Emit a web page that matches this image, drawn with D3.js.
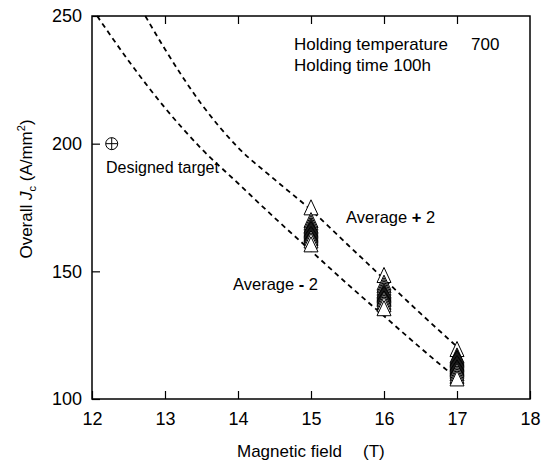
<!DOCTYPE html>
<html>
<head>
<meta charset="utf-8">
<script src="https://cdn.jsdelivr.net/npm/d3@7"></script>
<style>
  body { margin: 0; background: #fff; }
  svg { display: block; font-family: "Liberation Sans", Arial, sans-serif; }
</style>
</head>
<body>
<div id="chart"></div>
<script>
// tick labels
const xTicks = [12, 13, 14, 15, 16, 17, 18]
const yTicks = [100, 150, 200, 250]

const jc15 = [175, 170, 169, 168, 167.5, 167, 166.5, 166, 165.5, 165, 164.5, 164, 163.5, 163, 162, 160.5]
const jc16 = [148.5, 145.5, 144.5, 143.5, 142.5, 142, 141.5, 141, 140.5, 140, 139.5, 139, 138, 137, 135.5]
const jc17 = [119.5, 117, 116.5, 116, 115.5, 115, 114.5, 114, 113.5, 113, 112.5, 112, 111.5, 111, 110, 109, 108]

// average +/- 2 sigma curves
const upperCurve = [[12.73, 250], [13.0, 237], [13.5, 215.5], [14.0, 198.5], [14.5, 186], [15, 174], [15.5, 160.5], [16, 147], [16.5, 133.5], [17, 120.5]]
const lowerCurve = [[12.07, 250], [12.5, 232.5], [13.0, 214], [13.5, 198], [14.0, 184.5], [14.5, 171], [15, 158], [15.5, 145], [16, 132.5], [16.5, 120], [17, 108]]

const target = [12.27, 200]

const width = 549
const height = 461
const margin = { top: 16, right: 19, bottom: 62, left: 92 }

const svg = d3.select('#chart')
  .append('svg')
  .attr('width', width)
  .attr('height', height)
  .attr('viewBox', [0, 0, width, height])

const x = d3.scaleLinear().domain([12, 18]).range([margin.left, width - margin.right])
const y = d3.scaleLinear().domain([100, 250]).range([height - margin.bottom, margin.top])

// axes, ticks point inward
const axisFont = g => g.selectAll('text').attr('font-size', 18).attr('fill', '#000').attr('font-family', null)

svg.append('g')
  .attr('transform', `translate(0,${y(100)})`)
  .call(d3.axisBottom(x).tickValues(xTicks).tickSizeInner(-8).tickSizeOuter(0).tickPadding(13).tickFormat(d3.format('d')))
  .call(g => g.select('.domain').remove())
  .call(g => g.selectAll('line').attr('stroke-width', 1.2))
  .call(axisFont)

svg.append('g')
  .attr('transform', `translate(0,${y(250)})`)
  .call(d3.axisTop(x).tickValues(xTicks.slice(1, -1)).tickSizeInner(-8).tickSizeOuter(0).tickFormat(''))
  .call(g => g.select('.domain').remove())
  .call(g => g.selectAll('line').attr('stroke-width', 1.2))

svg.append('g')
  .attr('transform', `translate(${x(12)},0)`)
  .call(d3.axisLeft(y).tickValues(yTicks).tickSizeInner(-8).tickSizeOuter(0).tickPadding(10).tickFormat(d3.format('d')))
  .call(g => g.select('.domain').remove())
  .call(g => g.selectAll('line').attr('stroke-width', 1.2))
  .call(axisFont)

// frame
svg.append('rect')
  .attr('x', x(12))
  .attr('y', y(250))
  .attr('width', x(18) - x(12))
  .attr('height', y(100) - y(250))
  .attr('fill', 'none')
  .attr('stroke', '#000')
  .attr('stroke-width', 1.5)

// dashed curves
const line = d3.line()
  .x(d => x(d[0]))
  .y(d => y(d[1]))
  .curve(d3.curveMonotoneX)

svg.selectAll('path.band')
  .data([upperCurve, lowerCurve])
  .enter()
  .append('path')
  .attr('class', 'band')
  .attr('d', line)
  .attr('fill', 'none')
  .attr('stroke', '#000')
  .attr('stroke-width', 1.8)
  .attr('stroke-dasharray', '5,4')

// tall open triangle
const tallTriangle = {
  draw(context, size) {
    const w = Math.sqrt(size) / 2
    context.moveTo(0, -w * 1.1)
    context.lineTo(w, w * 1.05)
    context.lineTo(-w, w * 1.05)
    context.closePath()
  }
}

const points = [
  ...jc15.map(v => ({ field: 15, jc: v })),
  ...jc16.map(v => ({ field: 16, jc: v })),
  ...jc17.map(v => ({ field: 17, jc: v }))
]

svg.selectAll('path.pt')
  .data(points)
  .enter()
  .append('path')
  .attr('class', 'pt')
  .attr('d', d3.symbol(tallTriangle, 196))
  .attr('transform', d => `translate(${x(d.field)},${y(d.jc)})`)
  .attr('fill', '#fff')
  .attr('stroke', '#000')
  .attr('stroke-width', 1)

// designed target marker
const tg = svg.append('g').attr('transform', `translate(${x(target[0])},${y(target[1])})`)
tg.append('circle').attr('r', 6).attr('fill', 'none').attr('stroke', '#000').attr('stroke-width', 1)
tg.append('line').attr('x1', -6).attr('x2', 6).attr('stroke', '#000').attr('stroke-width', 1)
tg.append('line').attr('y1', -6).attr('y2', 6).attr('stroke', '#000').attr('stroke-width', 1)

// annotations
const note = (tx, ty, size, parts) => {
  const t = svg.append('text').attr('x', tx).attr('y', ty).attr('font-size', size)
  parts.forEach(p => {
    t.append('tspan').text(p[0]).attr('font-weight', p[1] ? 'bold' : null)
  })
  return t
}

note(294, 50, 17, [['Holding temperature', 0]])
note(471, 50, 17, [['700', 0]])
note(294, 71, 17, [['Holding time 100h', 0]])
note(106, 173, 16, [['Designed target', 0]])
note(346, 223, 16.5, [['Average ', 0], ['+', 1], [' 2', 0]])
note(233, 290, 16.5, [['Average ', 0], ['-', 1], [' 2', 0]])

// axis titles
svg.append('text')
  .attr('x', 237)
  .attr('y', 457)
  .attr('font-size', 17)
  .text('Magnetic field')

svg.append('text')
  .attr('x', 363)
  .attr('y', 457)
  .attr('font-size', 17)
  .text('(T)')

const ylab = svg.append('text')
  .attr('transform', 'translate(32,189) rotate(-90)')
  .attr('text-anchor', 'middle')
  .attr('font-size', 17)
ylab.append('tspan').text('Overall ')
ylab.append('tspan').text('J').attr('font-style', 'italic')
ylab.append('tspan').text('c').attr('font-size', 11).attr('dy', 4)
ylab.append('tspan').text(' (A/mm').attr('dy', -4)
ylab.append('tspan').text('2').attr('font-size', 11).attr('dy', -7)
ylab.append('tspan').text(')').attr('dy', 7)
</script>
</body>
</html>
